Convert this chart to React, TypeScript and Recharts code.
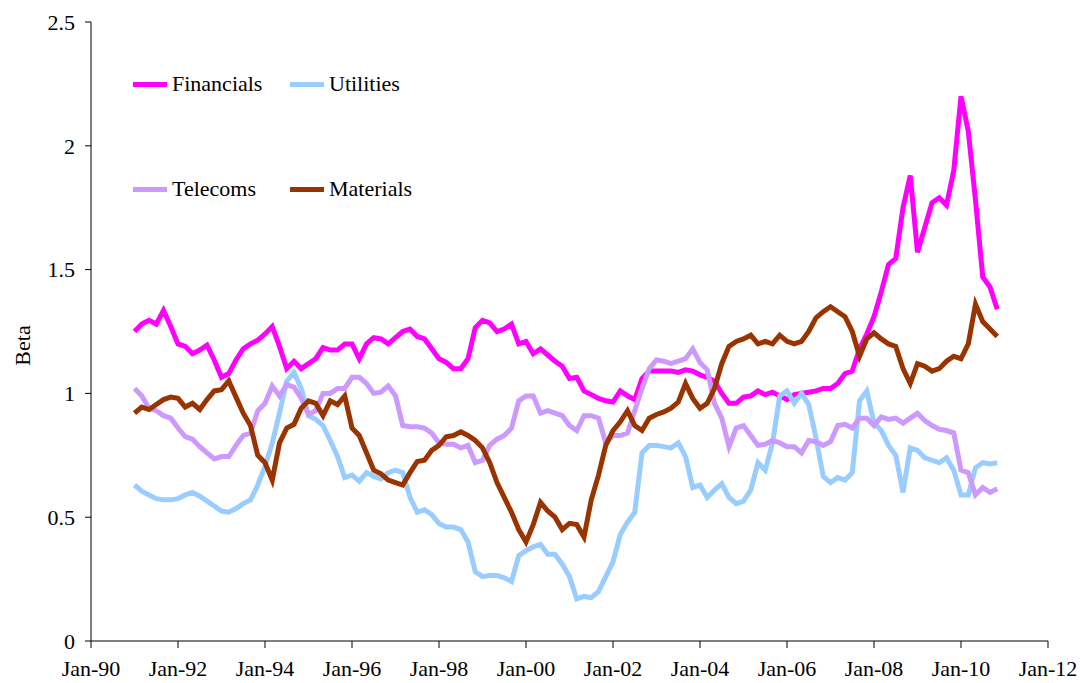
import { LineChart, Line, XAxis, YAxis, Legend, Label } from 'recharts';

// bi-monthly observations, Jan-91 .. Nov-10
const months = Array.from({ length: 120 }, (_, i) => 1991 + i / 6);

const financials = [
  1.25, 1.28, 1.295, 1.28, 1.335, 1.27, 1.2, 1.19, 1.16, 1.175, 1.195, 1.135,
  1.065, 1.08, 1.135, 1.18, 1.2, 1.215, 1.24, 1.27, 1.19, 1.1, 1.13, 1.1,
  1.12, 1.14, 1.185, 1.175, 1.175, 1.2, 1.2, 1.14, 1.2, 1.225, 1.22, 1.2,
  1.225, 1.25, 1.26, 1.23, 1.22, 1.18, 1.14, 1.125, 1.1, 1.1, 1.14, 1.265,
  1.295, 1.285, 1.25, 1.26, 1.28, 1.2, 1.21, 1.16, 1.18, 1.155, 1.13, 1.11,
  1.06, 1.065, 1.01, 0.995, 0.98, 0.97, 0.965, 1.01, 0.99, 0.975, 1.06, 1.09,
  1.09, 1.09, 1.09, 1.085, 1.095, 1.09, 1.075, 1.065, 1.05, 1.0, 0.96, 0.96,
  0.985, 0.99, 1.01, 0.995, 1.005, 0.99, 0.975, 0.995, 1.0, 1.005, 1.01, 1.02,
  1.02, 1.04, 1.08, 1.09, 1.18, 1.24, 1.31, 1.41, 1.52, 1.545, 1.75, 1.88,
  1.57, 1.67, 1.77, 1.79, 1.76, 1.9, 2.2, 2.06, 1.78, 1.47, 1.43, 1.34,
];

const utilities = [
  0.63, 0.605, 0.59, 0.575, 0.57, 0.57, 0.575, 0.59, 0.6, 0.585, 0.565, 0.545,
  0.525, 0.52, 0.535, 0.555, 0.57, 0.63, 0.705, 0.8, 0.92, 1.05, 1.085, 1.02,
  0.91, 0.895, 0.87, 0.81, 0.745, 0.66, 0.67, 0.645, 0.68, 0.665, 0.655, 0.68,
  0.69, 0.68, 0.58, 0.52, 0.53, 0.51, 0.475, 0.46, 0.46, 0.45, 0.4, 0.28,
  0.26, 0.265, 0.265, 0.255, 0.24, 0.345, 0.365, 0.38, 0.39, 0.35, 0.35, 0.31,
  0.26, 0.17, 0.18, 0.175, 0.2, 0.26, 0.32, 0.43, 0.48, 0.52, 0.76, 0.79,
  0.79, 0.785, 0.78, 0.8, 0.745, 0.62, 0.63, 0.58, 0.61, 0.635, 0.58, 0.555,
  0.565, 0.61, 0.72, 0.69, 0.8, 0.99, 1.01, 0.96, 1.0, 0.955, 0.82, 0.665,
  0.64, 0.66, 0.65, 0.68, 0.97, 1.01, 0.88, 0.85, 0.79, 0.75, 0.6, 0.78,
  0.77, 0.74, 0.73, 0.72, 0.74, 0.69, 0.59, 0.59, 0.7, 0.72, 0.715, 0.72,
];

const telecoms = [
  1.02, 0.99, 0.94, 0.93, 0.91, 0.9, 0.86, 0.825, 0.815, 0.785, 0.76, 0.735,
  0.745, 0.745, 0.79, 0.83, 0.84, 0.93, 0.96, 1.03, 0.99, 1.035, 1.025, 0.98,
  0.915, 0.93, 1.0, 1.0, 1.02, 1.02, 1.065, 1.065, 1.04, 1.0, 1.005, 1.03,
  0.99, 0.87, 0.865, 0.865, 0.86, 0.84, 0.8, 0.795, 0.795, 0.78, 0.79, 0.72,
  0.73, 0.79, 0.815, 0.83, 0.86, 0.97, 0.99, 0.99, 0.92, 0.93, 0.92, 0.91,
  0.87, 0.85, 0.91, 0.91, 0.9, 0.8, 0.83, 0.83, 0.84, 0.93, 1.02, 1.1,
  1.135, 1.13, 1.12, 1.13, 1.14, 1.18, 1.125, 1.095, 0.96, 0.9, 0.785, 0.86,
  0.87, 0.83, 0.79, 0.795, 0.81, 0.8, 0.785, 0.785, 0.76, 0.81, 0.805, 0.79,
  0.805, 0.87, 0.875, 0.86, 0.9, 0.9, 0.87, 0.905, 0.895, 0.9, 0.88, 0.9,
  0.92, 0.89, 0.87, 0.855, 0.85, 0.84, 0.69, 0.68, 0.59, 0.62, 0.6, 0.615,
];

const materials = [
  0.92, 0.945, 0.935, 0.955, 0.975, 0.985, 0.98, 0.945, 0.96, 0.935, 0.975, 1.01,
  1.015, 1.05, 0.985, 0.92, 0.87, 0.75, 0.72, 0.65, 0.8, 0.86, 0.875, 0.94,
  0.97, 0.96, 0.91, 0.97, 0.955, 0.99, 0.86, 0.83, 0.76, 0.69, 0.675, 0.65,
  0.64, 0.63, 0.68, 0.725, 0.73, 0.77, 0.79, 0.825, 0.83, 0.845, 0.83, 0.81,
  0.78, 0.72, 0.64, 0.58, 0.52, 0.45, 0.4, 0.47, 0.56, 0.525, 0.5, 0.45,
  0.475, 0.47, 0.42, 0.57, 0.67, 0.79, 0.85, 0.885, 0.93, 0.87, 0.85, 0.9,
  0.915, 0.925, 0.94, 0.965, 1.04, 0.98, 0.94, 0.96, 1.02, 1.12, 1.19, 1.21,
  1.22, 1.235, 1.2, 1.21, 1.2, 1.235, 1.21, 1.2, 1.21, 1.25, 1.305, 1.33,
  1.35, 1.33, 1.31, 1.25, 1.15, 1.22, 1.245, 1.22, 1.2, 1.19, 1.1, 1.04,
  1.12, 1.11, 1.09, 1.1, 1.13, 1.15, 1.14, 1.2, 1.36, 1.29, 1.26, 1.23,
];

const xTicks = [1990, 1992, 1994, 1996, 1998, 2000, 2002, 2004, 2006, 2008, 2010, 2012];
const yTicks = [0, 0.5, 1, 1.5, 2, 2.5];

const series = [
  { key: 'financials', name: 'Financials', color: '#ff00ff' },
  { key: 'utilities', name: 'Utilities', color: '#99ccff' },
  { key: 'telecoms', name: 'Telecoms', color: '#cc99ff' },
  { key: 'materials', name: 'Materials', color: '#993300' },
];

const data = months.map((t, i) => ({
  t,
  financials: financials[i],
  utilities: utilities[i],
  telecoms: telecoms[i],
  materials: materials[i],
}));

const FONT = 'Liberation Serif, Times New Roman, serif';
const FS = 22;

const BetaLabel = (props: any) => {
  const vb = props.viewBox || { x: 0, y: 22, width: 91, height: 619 };
  const cx = 22;
  const cy = vb.y + vb.height / 2 + 14;
  return (
    <text
      x={cx}
      y={cy}
      transform={`rotate(-90 ${cx} ${cy})`}
      textAnchor="middle"
      dominantBaseline="central"
      fontFamily={FONT}
      fontSize={FS}
      fill="#000"
    >
      Beta
    </text>
  );
};

const renderLegend = () => (
  <div
    style={{
      display: 'grid',
      gridTemplateColumns: '157px 157px',
      rowGap: 77,
      fontFamily: FONT,
      fontSize: FS,
      color: '#000',
    }}
  >
    {series.map((s) => (
      <div key={s.key} style={{ display: 'flex', alignItems: 'center', height: 28 }}>
        <span style={{ display: 'inline-block', width: 34, height: 5, background: s.color, marginRight: 5 }} />
        <span>{s.name}</span>
      </div>
    ))}
  </div>
);

export default function App() {
  return (
    <div style={{ width: 1082, height: 683 }}>
      <style>{`body { margin: 0; background: #fff; }`}</style>
      <LineChart width={1082} height={683} data={data} margin={{ top: 22, right: 34, left: 0, bottom: 0 }}>
        <XAxis
          dataKey="t"
          type="number"
          domain={[1990, 2012]}
          ticks={xTicks}
          tickFormatter={(v: number) => `Jan-${String(Math.round(v) % 100).padStart(2, '0')}`}
          stroke="#000"
          tick={{ fill: '#000', fontSize: FS, fontFamily: FONT }}
          tickSize={7}
          tickMargin={12}
          height={42}
          interval={0}
        />
        <YAxis
          type="number"
          domain={[0, 2.5]}
          ticks={yTicks}
          stroke="#000"
          tick={{ fill: '#000', fontSize: FS, fontFamily: FONT }}
          tickSize={6}
          tickMargin={10}
          width={91}
          interval={0}
        >
          <Label content={BetaLabel} />
        </YAxis>
        <Legend
          layout="vertical"
          align="center"
          verticalAlign="middle"
          content={renderLegend}
          wrapperStyle={{ left: 133, top: 70, width: 'auto', height: 'auto' }}
        />
        {series.map((s) => (
          <Line
            key={s.key}
            type="linear"
            dataKey={s.key}
            name={s.name}
            stroke={s.color}
            strokeWidth={5}
            dot={false}
            activeDot={false}
            isAnimationActive={false}
          />
        ))}
      </LineChart>
    </div>
  );
}
